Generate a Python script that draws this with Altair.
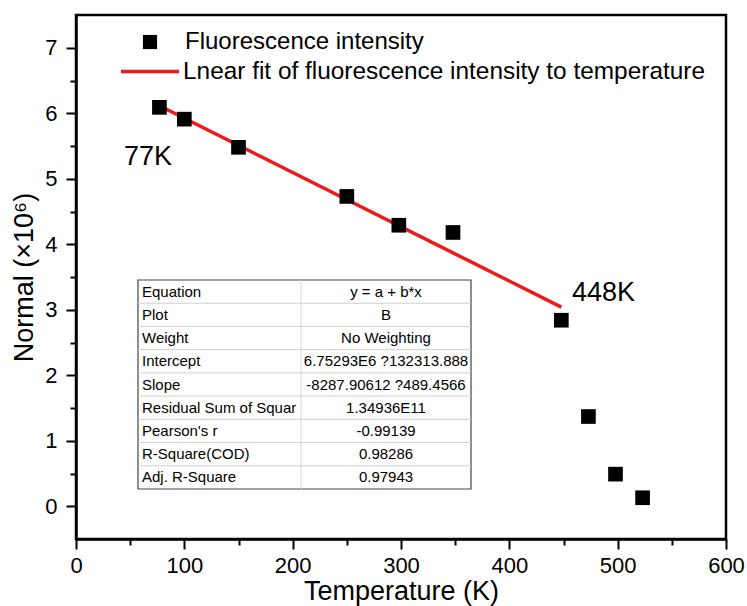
import altair as alt
import pandas as pd

# ---- data ----
temps = [77, 100, 150, 250, 298, 348, 448, 473, 498, 523]
intensity = [6.09, 5.91, 5.48, 4.73, 4.29, 4.18, 2.84, 1.37, 0.49, 0.13]
fit_temps = [77, 448]
fit_vals = [6.115, 3.040]

table_labels = ["Equation", "Plot", "Weight", "Intercept", "Slope",
                "Residual Sum of Squar", "Pearson's r", "R-Square(COD)", "Adj. R-Square"]
table_values = ["y = a + b*x", "B", "No Weighting", "6.75293E6 ?132313.888",
                "-8287.90612 ?489.4566", "1.34936E11", "-0.99139", "0.98286", "0.97943"]

legend_labels = ["Fluorescence intensity",
                 "Lnear fit of fluorescence intensity to temperature"]
annot_labels = ["77K", "448K"]

x_ticks = [0, 50, 100, 150, 200, 250, 300, 350, 400, 450, 500, 550, 600]
y_ticks = [0, 0.5, 1, 1.5, 2, 2.5, 3, 3.5, 4, 4.5, 5, 5.5, 6, 6.5, 7]

FONT = "Liberation Sans"
W, H = 650, 524

pts = pd.DataFrame({"T": temps, "I": intensity})
fit = pd.DataFrame({"T": fit_temps, "I": fit_vals})
tbl = pd.DataFrame({"label": table_labels, "value": table_values})
tbl["pos"] = tbl.index + 0.5
seps = pd.DataFrame({"b": list(range(1, len(table_labels)))})

xs = alt.Scale(domain=[0, 600], nice=False, zero=False)
ys = alt.Scale(domain=[-0.5, 7.5], nice=False, zero=False)

common_axis = dict(
    tickColor="black", tickWidth=2, domainColor="black", domainWidth=2.5,
    labelFont=FONT, labelFontSize=22, labelColor="black",
    titleFont=FONT, titleFontWeight="normal", titleColor="black",
    grid=False, labelOverlap=False, labelFlush=False,
)

xaxis = alt.Axis(
    values=x_ticks,
    labelExpr="datum.value % 100 === 0 ? format(datum.value, 'd') : ''",
    tickSize={"condition": {"test": "datum.value % 100 === 0", "value": 10}, "value": 6},
    labelPadding=6, title="Temperature (K)", titleFontSize=27, titlePadding=2,
    **common_axis,
)
yaxis = alt.Axis(
    values=y_ticks,
    labelExpr="datum.value % 1 === 0 ? format(datum.value, 'd') : ''",
    tickSize={"condition": {"test": "datum.value % 1 === 0", "value": 10}, "value": 6},
    labelPadding=9, title="Normal (×10⁶)", titleFontSize=27, titlePadding=6,
    **common_axis,
)

points = alt.Chart(pts).mark_square(size=215, color="black", opacity=1).encode(
    x=alt.X("T:Q", scale=xs, axis=xaxis),
    y=alt.Y("I:Q", scale=ys, axis=yaxis),
)

line = alt.Chart(fit).mark_line(color="#f01818", strokeWidth=3.5).encode(
    x=alt.X("T:Q", scale=xs, axis=None),
    y=alt.Y("I:Q", scale=ys, axis=None),
)

# ---- table box (pixel layout) ----
T_LEFT, T_RIGHT, T_DIV, T_TOP, T_BOT = 62, 395, 225, 265, 474
rowscale = alt.Scale(domain=[0, len(table_labels)], range=[T_TOP, T_BOT])

box = alt.Chart(pd.DataFrame({"k": [0]})).mark_rect(
    fill="white", stroke="#444444", strokeWidth=1.2).encode(
    x=alt.value(T_LEFT), x2=alt.value(T_RIGHT),
    y=alt.value(T_TOP), y2=alt.value(T_BOT))

rows = alt.Chart(seps).mark_rule(color="#cfcfcf", strokeWidth=1).encode(
    x=alt.value(T_LEFT), x2=alt.value(T_RIGHT),
    y=alt.Y("b:Q", scale=rowscale, axis=None))

divider = alt.Chart(pd.DataFrame({"k": [0]})).mark_rule(color="#d8d8d8", strokeWidth=1).encode(
    x=alt.value(T_DIV), y=alt.value(T_TOP), y2=alt.value(T_BOT))

lab_text = alt.Chart(tbl).mark_text(
    align="left", baseline="middle", font=FONT, fontSize=15, color="black").encode(
    x=alt.value(T_LEFT + 4),
    y=alt.Y("pos:Q", scale=rowscale, axis=None),
    text="label:N")

val_text = alt.Chart(tbl).mark_text(
    align="center", baseline="middle", font=FONT, fontSize=15, color="black").encode(
    x=alt.value((T_DIV + T_RIGHT) / 2),
    y=alt.Y("pos:Q", scale=rowscale, axis=None),
    text="value:N")

# ---- legend (manual) ----
leg_sq = alt.Chart(pd.DataFrame({"k": [0]})).mark_square(
    size=200, color="black", opacity=1).encode(x=alt.value(74), y=alt.value(27))
leg_ln = alt.Chart(pd.DataFrame({"k": [0]})).mark_rule(
    color="#f01818", strokeWidth=3.5).encode(
    x=alt.value(45), x2=alt.value(103), y=alt.value(56.5))
leg_t1 = alt.Chart(pd.DataFrame({"t": [legend_labels[0]]})).mark_text(
    align="left", baseline="middle", font=FONT, fontSize=24, color="black").encode(
    x=alt.value(109), y=alt.value(27), text="t:N")
leg_t2 = alt.Chart(pd.DataFrame({"t": [legend_labels[1]]})).mark_text(
    align="left", baseline="middle", font=FONT, fontSize=24.4, color="black").encode(
    x=alt.value(107), y=alt.value(56.5), text="t:N")

# ---- annotations ----
ann1 = alt.Chart(pd.DataFrame({"t": [annot_labels[0]]})).mark_text(
    align="left", baseline="middle", font=FONT, fontSize=27, color="black").encode(
    x=alt.value(48), y=alt.value(142), text="t:N")
ann2 = alt.Chart(pd.DataFrame({"t": [annot_labels[1]]})).mark_text(
    align="left", baseline="middle", font=FONT, fontSize=27, color="black").encode(
    x=alt.value(496), y=alt.value(278), text="t:N")

chart = alt.layer(
    box, rows, divider, lab_text, val_text,
    line, points,
    leg_sq, leg_ln, leg_t1, leg_t2, ann1, ann2,
).resolve_scale(x="independent", y="independent").properties(
    width=W, height=H,
    autosize=alt.AutoSizeParams(type="none"),
    padding={"left": 76, "top": 15, "right": 21, "bottom": 67},
    background="white",
).configure_view(stroke="black", strokeWidth=2.5)

chart.save("out.html", embed_options={"renderer": "svg", "actions": False})
